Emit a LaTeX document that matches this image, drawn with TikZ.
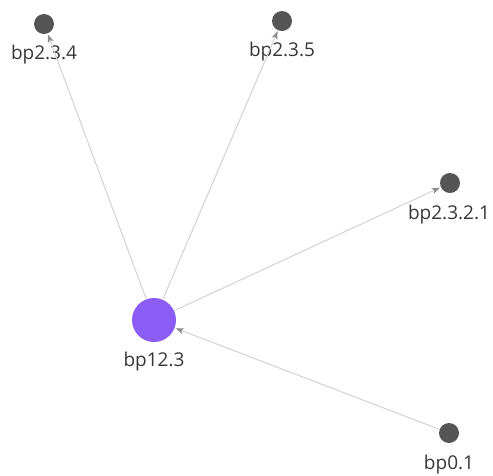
\documentclass[tikz,border=0pt]{standalone}
\usepackage{fontspec}
\setmainfont{Open Sans}
\usetikzlibrary{arrows.meta}
\definecolor{dotgray}{RGB}{85,85,85}
\definecolor{vpurple}{RGB}{139,92,246}
\definecolor{edgegray}{RGB}{210,210,210}
\definecolor{tipgray}{RGB}{140,140,140}
\definecolor{txtgray}{RGB}{55,55,55}
\tikzset{
  smalldot/.style={circle, fill=dotgray, draw=none, minimum size=20pt, inner sep=0pt},
  bigdot/.style={circle, fill=vpurple, draw=none, minimum size=44pt, inner sep=0pt},
  lbl/.style={text=txtgray, font=\fontsize{19}{22}\selectfont, inner sep=0pt},
  edge/.style={draw=edgegray, line width=1pt, -{Stealth[length=8pt,width=6pt,inset=2pt,fill=tipgray,color=tipgray]}, shorten >=1pt}
}
\begin{document}
\begin{tikzpicture}[x=1pt,y=-1pt]
\useasboundingbox (0,0) rectangle (493,475);
\node[smalldot] (a) at (44,24) {};
\node[smalldot] (b) at (282,21) {};
\node[smalldot] (c) at (450,183) {};
\node[bigdot] (m) at (154,320) {};
\node[smalldot] (d) at (449,433) {};
\node[lbl] (la) at (44,55) {bp2.3.4};
\node[lbl] (lb) at (282,52) {bp2.3.5};
\node[lbl] (lc) at (449,215) {bp2.3.2.1};
\node[lbl] (lm) at (154,362) {bp12.3};
\node[lbl] (ld) at (449,465) {bp0.1};
\draw[edge] (m) -- (a);
\draw[edge] (m) -- (b);
\draw[edge] (m) -- (c);
\draw[edge] (d) -- (m);
\end{tikzpicture}
\end{document}
